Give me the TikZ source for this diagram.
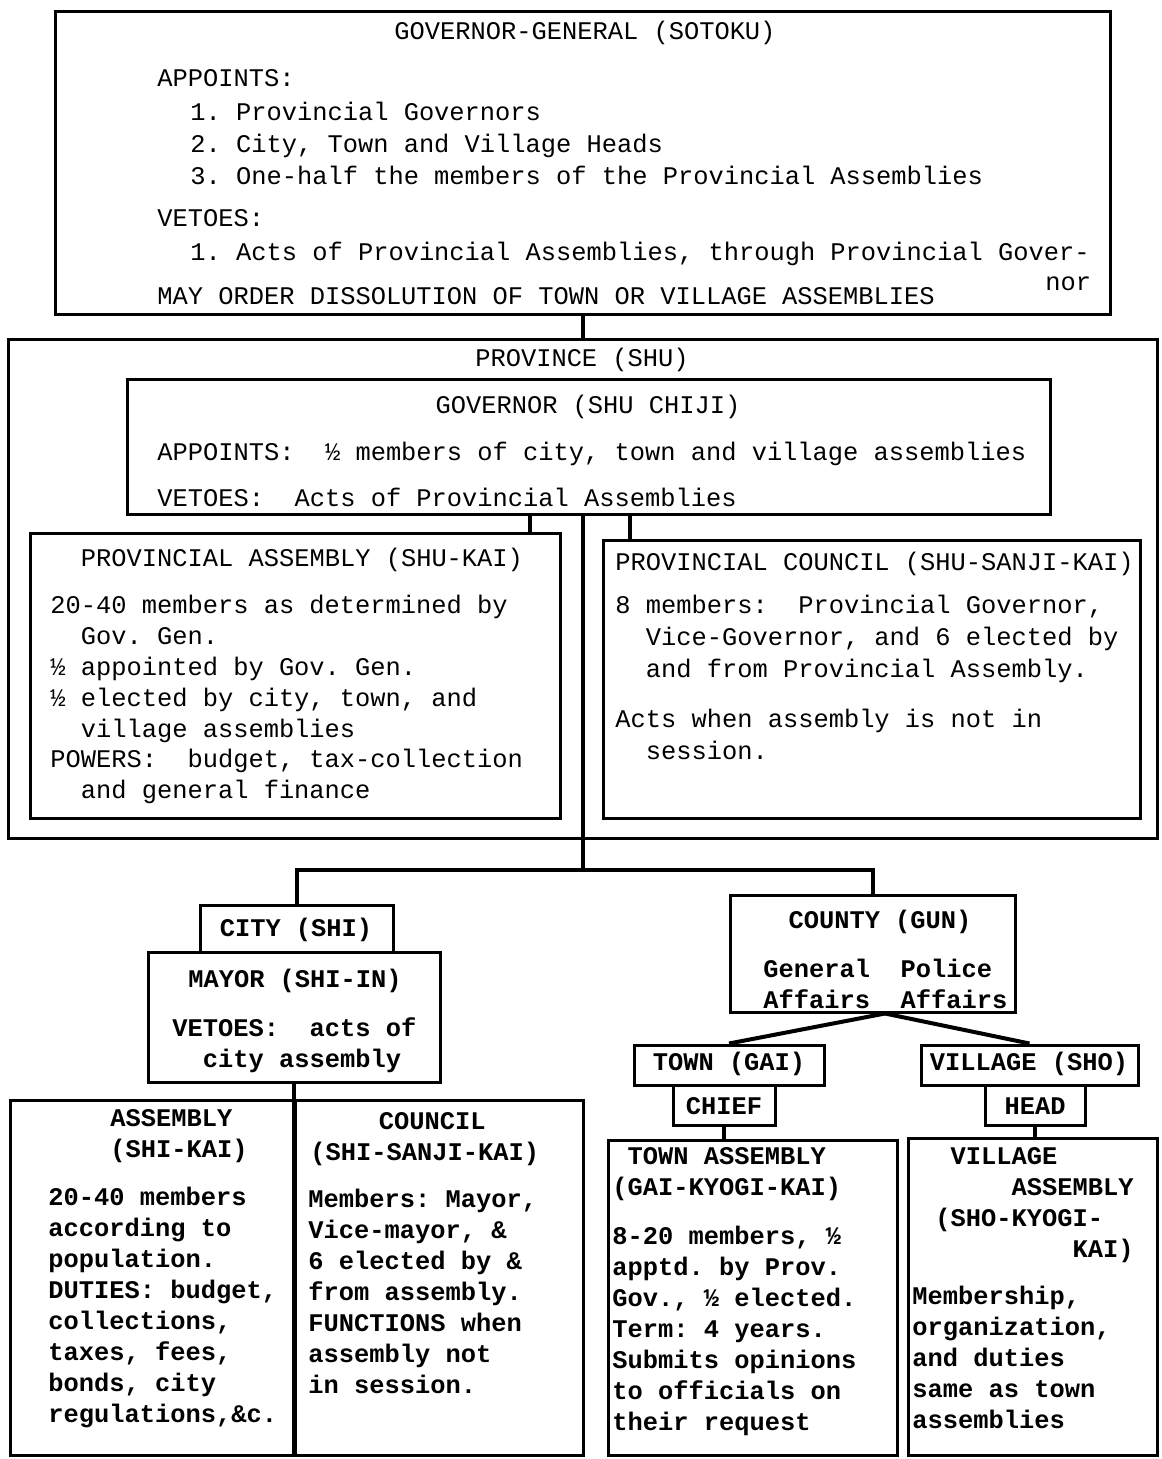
\documentclass[tikz,border=0pt]{standalone}
\usepackage{fontspec}
\newfontfamily\tw{Liberation Mono}
\usetikzlibrary{positioning,fit,calc}
\frenchspacing

\begin{document}
\begin{tikzpicture}[x=0.5pt, y=-0.5pt,
    box/.style={draw, line width=1.5pt, inner sep=0pt},
    link/.style={line width=2pt},
    lbl/.style={inner sep=0pt, font=\tw\fontsize{12.7}{16}\selectfont},
    txt/.style={lbl, anchor=north west, align=left},
    low/.style={font=\tw\bfseries\fontsize{12.7}{15.5}\selectfont}]
\useasboundingbox (0,0) rectangle (1161,1459);

% Governor-General
\node[box, fit={(55,12) (1110,315)}] (gg) {};
\node[lbl] (ggtitle) at (585,33) {GOVERNOR-GENERAL (SOTOKU)};
\node[txt] (ggappoints) at (157,69) {APPOINTS:};
\node[txt] (gglist) at (190,102) {1. Provincial Governors\\2. City, Town and Village Heads\\3. One-half the members of the Provincial Assemblies};
\node[txt] (ggvetoes) at (157,209) {VETOES:};
\node[txt] (ggveto) at (190,242) {1. Acts of Provincial Assemblies, through Provincial Gover-};
\node[txt] (ggnor) at (1045,276) {nor};
\node[txt] (ggdissolve) at (157,287) {MAY ORDER DISSOLUTION OF TOWN OR VILLAGE ASSEMBLIES};

% Province
\node[box, fit={(8,340) (1157,838)}] (prov) {};
\node[lbl] (provtitle) at (582,360) {PROVINCE (SHU)};
\node[box, fit={(127,380) (1050,515)}] (gov) {};
\node[lbl] (govtitle) at (588,407) {GOVERNOR (SHU CHIJI)};
\node[txt] (govappoints) at (157,442) {APPOINTS:~~½ members of city, town and village assemblies};
\node[txt] (govvetoes) at (157,488) {VETOES:~~Acts of Provincial Assemblies};

\node[box, fit={(30,533) (560,818)}] (pa) {};
\node[lbl] (patitle) at (302,560) {PROVINCIAL ASSEMBLY (SHU-KAI)};
\node[txt, font=\tw\fontsize{12.7}{15.4}\selectfont] (patext) at (50,595) {20-40 members as determined by\\~~Gov. Gen.\\½ appointed by Gov. Gen.\\½ elected by city, town, and\\~~village assemblies\\POWERS:~~budget, tax-collection\\~~and general finance};

\node[box, fit={(603,540) (1140,818)}] (pc) {};
\node[txt] (pctitle) at (615,552) {PROVINCIAL COUNCIL (SHU-SANJI-KAI)};
\node[txt] (pctext) at (615,595) {8 members:~~Provincial Governor,\\~~Vice-Governor, and 6 elected by\\~~and from Provincial Assembly.};
\node[txt] (pcacts) at (615,709) {Acts when assembly is not in\\~~session.};

\draw[link] (gg.south) -- (gg.south |- prov.north);
\draw[link] (gov.south -| 530,0) -- (pa.north -| 530,0);
\draw[link] (gov.south -| 630,0) -- (pc.north -| 630,0);

% City
\node[box, fit={(200,905) (393,952)}] (city) {};
\node[lbl, low] (citytitle) at (296,930) {CITY (SHI)};
\node[box, fit={(148,952) (440,1082)}] (mayor) {};
\node[lbl, low] (mayortitle) at (295,981) {MAYOR (SHI-IN)};
\node[txt, low] (mayortext) at (172,1017) {VETOES:~~acts of\\~~city assembly};

\node[box, fit={(10,1100) (295,1455)}] (sa) {};
\node[txt, low] (satitle) at (110,1109) {ASSEMBLY\\(SHI-KAI)};
\node[txt, low] (satext) at (48,1187) {20-40 members\\according to\\population.\\DUTIES: budget,\\collections,\\taxes, fees,\\bonds, city\\regulations,\&c.};
\node[box, fit={(295,1100) (583,1455)}] (sc) {};
\node[txt, low, align=center] (sctitle) at (310,1112) {~~~COUNCIL~~~\\(SHI-SANJI-KAI)};
\node[txt, low] (sctext) at (308,1189) {Members: Mayor,\\Vice-mayor, \&\\6 elected by \&\\from assembly.\\FUNCTIONS when\\assembly not\\in session.};

% County
\node[box, fit={(730,895) (1015,1012)}] (county) {};
\node[lbl, low] (countytitle) at (880,922) {COUNTY (GUN)};
\node[txt, low] (countytext) at (763,959) {General~~Police\\Affairs~~Affairs};

\node[box, fit={(634,1045) (824,1085)}] (town) {};
\node[lbl, low] (towntitle) at (729,1064) {TOWN (GAI)};
\node[box, fit={(673,1085) (775,1125)}] (chief) {};
\node[lbl, low] (chieftitle) at (724,1106) {CHIEF};
\node[box, fit={(608,1140) (897,1455)}] (ta) {};
\node[txt, low] (tatitle) at (612,1147) {~TOWN ASSEMBLY\\(GAI-KYOGI-KAI)};
\node[txt, low] (tatext) at (612,1226) {8-20 members, ½\\apptd. by Prov.\\Gov., ½ elected.\\Term: 4 years.\\Submits opinions\\to officials on\\their request};

\node[box, fit={(921,1045) (1138,1085)}] (village) {};
\node[lbl, low] (villagetitle) at (1029,1064) {VILLAGE (SHO)};
\node[box, fit={(985,1085) (1085,1125)}] (head) {};
\node[lbl, low] (headtitle) at (1035,1106) {HEAD};
\node[box, fit={(908,1138) (1157,1455)}] (va) {};
\node[txt, low] (vatitle) at (935,1147) {~VILLAGE\\~~~~~ASSEMBLY\\(SHO-KYOGI-\\~~~~~~~~~KAI)};
\node[txt, low] (vatext) at (912,1286) {Membership,\\organization,\\and duties\\same as town\\assemblies};

% connectors below the province
\coordinate (jn) at (583,870);
\draw[link] (jn |- gov.south) -- (jn);
\draw[link] (city.north) -- (city.north |- jn) -- (county.north |- jn) -- (county.north);
\draw[link] (mayor.south) -- (mayor.south |- sa.south);
\draw[link] (county.south -| 885,0) -- (town.north);
\draw[link] (county.south -| 885,0) -- (village.north);
\draw[link] (chief.south) -- (chief.south |- ta.north);
\draw[link] (head.south) -- (head.south |- va.north);
\end{tikzpicture}
\end{document}
